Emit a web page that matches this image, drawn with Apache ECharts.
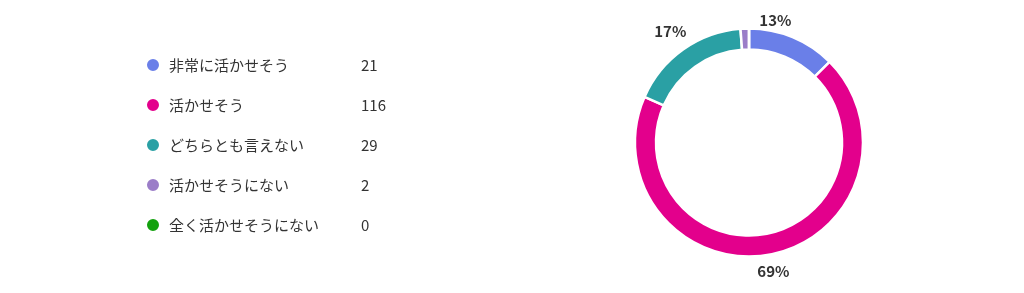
<!DOCTYPE html>
<html><head><meta charset="utf-8">
<script src="https://cdn.jsdelivr.net/npm/echarts@6/dist/echarts.min.js"></script>
<style>html,body{margin:0;padding:0;background:#fff}#c{width:1024px;height:293px}</style>
</head><body><div id="c"></div>
<script>
const categories = ['非常に活かせそう','活かせそう','どちらとも言えない','活かせそうにない','全く活かせそうにない'];
const values = [21,116,29,2,0];
const colors = ['#6A7FE8','#E3008C','#2AA0A4','#9B7DC8','#13A10E'];
const showLabel = [true,true,true,false,false];

const total = values.reduce((a,b)=>a+b,0);
const cx = 749, cy = 142.5;
const chart = echarts.init(document.getElementById('c'));
const font = '"Noto Sans CJK JP","Noto Sans",sans-serif';
function midAngle(i){
  let s = 0; for (let k=0;k<i;k++) s += values[k];
  return (s + values[i]/2)/total*2*Math.PI;
}
chart.setOption({
  animation:false,
  color: colors,
  legend:{
    orient:'vertical', left:140, top:52,
    icon:'circle', itemWidth:14, itemHeight:14, itemGap:24,
    selectedMode:false,
    textStyle:{fontFamily:font, fontSize:15, color:'#333', padding:[0,0,0,4],
      rich:{n:{width:192, fontFamily:font, fontSize:15, color:'#333'}, v:{fontFamily:font, fontSize:15, color:'#333'}}},
    formatter: name => '{n|'+name+'}{v|'+values[categories.indexOf(name)]+'}',
    data: categories
  },
  series:[{
    type:'pie',
    center:[cx,cy],
    radius:[93,114],
    startAngle:90,
    clockwise:true,
    avoidLabelOverlap:false,
    itemStyle:{borderColor:'#fff', borderWidth:2.5},
    label:{show:true, position:'outside', fontFamily:font, fontSize:15, fontWeight:'bold', color:'#333',
      formatter: p => Math.round(p.value/total*100)+'%'},
    labelLine:{show:false},
    labelLayout: p => {
      const a = midAngle(p.dataIndex);
      const r = p.dataIndex===0 ? 132 : (p.dataIndex===1 ? 131 : 136);
      return {x: cx + Math.sin(a)*r - (p.dataIndex===0 ? 8 : 0), y: cy - Math.cos(a)*r,
        align: p.dataIndex===0 ? 'right' : 'center', verticalAlign:'middle'};
    },
    emphasis:{disabled:true},
    data: categories.map((c,i)=>({name:c, value:values[i], label:{show:showLabel[i]}}))
  }]
});
</script></body></html>
